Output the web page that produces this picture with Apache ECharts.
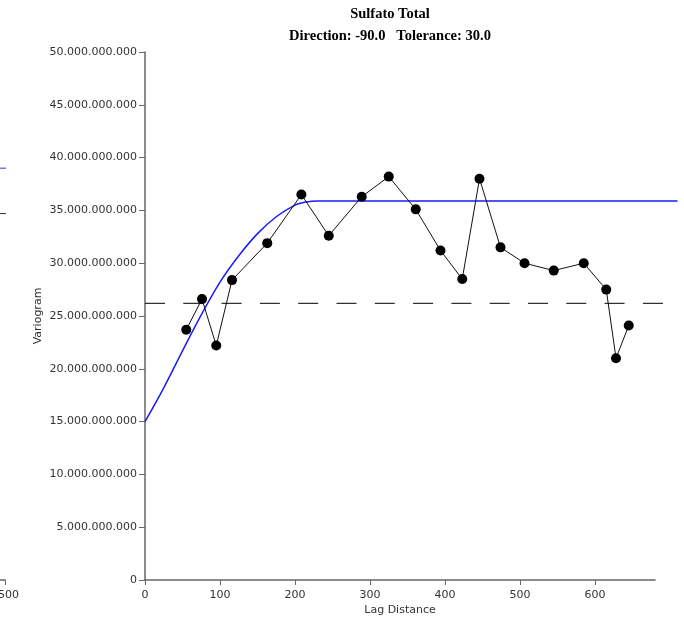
<!DOCTYPE html>
<html>
<head>
<meta charset="utf-8">
<script src="https://cdn.jsdelivr.net/npm/echarts@6/dist/echarts.min.js"></script>
<style>html,body{margin:0;padding:0;background:#fff;}#c{width:684px;height:628px;}</style>
</head>
<body>
<div id="c"></div>
<script>
// Experimental variogram points (lag distance, gamma in units of 1e9)
var lagX = [55, 76, 95, 116, 163, 208.5, 245, 289, 325, 361, 394, 423, 446, 474, 506, 545, 585, 615, 628, 645];
var gammaY = [23.7, 26.6, 22.2, 28.4, 31.9, 36.5, 32.6, 36.3, 38.2, 35.1, 31.2, 28.5, 38.0, 31.5, 30.0, 29.3, 30.0, 27.5, 21.0, 24.1];
// Model curve (units of 1e9)
var modelX = [0, 25, 50, 75, 100, 125, 150, 175, 200, 215, 230, 260, 710];
var modelY = [15.0, 18.2, 21.7, 25.1, 28.2, 30.7, 32.8, 34.4, 35.5, 35.8, 35.9, 35.9, 35.9];
// Sample variance (dashed)
var sillX = [0, 710];
var sillY = [26.2, 26.2];
// Tick values
var xTicks = [0, 100, 200, 300, 400, 500, 600];
// Fragment of neighbouring chart at left edge
var leftXTicks = [1500];
var leftBlueY = [39.0, 39.0];
var leftBlackY = [34.7, 34.7];
var leftLineX = [1400, 1505];

var E = 1e9;
function pairs(xs, ys) { return xs.map(function (x, i) { return [x, ys[i] * E]; }); }
function fmt(v) { return String(Math.round(v)).replace(/\B(?=(\d{3})+(?!\d))/g, '.'); }

var axisCol = '#666';
var labelCol = '#333';
var titleX = 390;
var chart = echarts.init(document.getElementById('c'), null, { renderer: 'canvas' });
chart.setOption({
  animation: false,
  backgroundColor: '#fff',
  graphic: [
    { type: 'text', x: titleX, y: 7, style: { text: 'Sulfato Total', fontFamily: 'Liberation Serif', fontWeight: 'bold', fontSize: 14.5, fill: '#000', textAlign: 'center' } },
    { type: 'text', x: titleX, y: 29, style: { text: 'Direction: -90.0   Tolerance: 30.0', fontFamily: 'Liberation Serif', fontWeight: 'bold', fontSize: 14.5, fill: '#000', textAlign: 'center' } }
  ],
  grid: [
    { left: 145, top: 52, right: 29, bottom: 48, outerBoundsMode: 'none' },
    { left: -400, top: 52, right: 679, bottom: 48, outerBoundsMode: 'none' },
    { left: 145, top: 52, right: 6.5, bottom: 48, outerBoundsMode: 'none' }
  ],
  xAxis: [
    {
      gridIndex: 0, type: 'value', min: 0, max: 680,
      name: 'Lag Distance', nameLocation: 'middle', nameGap: 25, nameMoveOverlap: false,
      nameTextStyle: { fontFamily: 'DejaVu Sans', fontSize: 11, color: labelCol },
      axisLine: { show: true, onZero: false, lineStyle: { color: axisCol, width: 1.5 } },
      axisTick: { show: true, length: 5, customValues: xTicks, lineStyle: { color: axisCol } },
      axisLabel: { customValues: xTicks, fontFamily: 'DejaVu Sans', fontSize: 11, color: labelCol, margin: 10 },
      splitLine: { show: false }
    },
    {
      gridIndex: 1, type: 'value', min: 0, max: 1500,
      axisLine: { show: true, onZero: false, lineStyle: { color: axisCol, width: 1.5 } },
      axisTick: { show: true, length: 5, customValues: leftXTicks, lineStyle: { color: axisCol } },
      axisLabel: { customValues: leftXTicks, formatter: function (v) { return String(v); }, fontFamily: 'DejaVu Sans', fontSize: 11, color: labelCol, margin: 10 },
      splitLine: { show: false }
    },
    {
      gridIndex: 2, type: 'value', min: 0, max: 710, show: false
    }
  ],
  yAxis: [
    {
      gridIndex: 0, type: 'value', min: 0, max: 50 * E, interval: 5 * E,
      name: 'Variogram', nameLocation: 'middle', nameGap: 101, nameRotate: 90, nameMoveOverlap: false,
      nameTextStyle: { fontFamily: 'DejaVu Sans', fontSize: 11, color: labelCol },
      axisLine: { show: true, lineStyle: { color: axisCol, width: 1.5 } },
      axisTick: { show: true, length: 6, lineStyle: { color: axisCol } },
      axisLabel: { formatter: fmt, fontFamily: 'DejaVu Sans', fontSize: 11, color: labelCol, margin: 8 },
      splitLine: { show: false }
    },
    { gridIndex: 1, type: 'value', min: 0, max: 50 * E, show: false },
    { gridIndex: 2, type: 'value', min: 0, max: 50 * E, show: false }
  ],
  series: [
    {
      type: 'line', xAxisIndex: 2, yAxisIndex: 2, data: pairs(sillX, sillY),
      symbol: 'none', lineStyle: { color: '#000', width: 1, type: [20, 18.3] }, silent: true, z: 1
    },
    {
      type: 'line', xAxisIndex: 2, yAxisIndex: 2, data: pairs(modelX, modelY),
      smooth: 0.35,
      symbol: 'none', lineStyle: { color: '#1a1aff', width: 1.5 }, silent: true, z: 2
    },
    {
      type: 'line', xAxisIndex: 0, yAxisIndex: 0, data: pairs(lagX, gammaY),
      symbol: 'circle', symbolSize: 10, itemStyle: { color: '#000' },
      lineStyle: { color: '#111', width: 1 }, silent: true, z: 3
    },
    {
      type: 'line', xAxisIndex: 1, yAxisIndex: 1, data: pairs(leftLineX, leftBlueY), clip: false,
      symbol: 'none', lineStyle: { color: '#3333ff', width: 1 }, silent: true
    },
    {
      type: 'line', xAxisIndex: 1, yAxisIndex: 1, data: pairs(leftLineX, leftBlackY), clip: false,
      symbol: 'none', lineStyle: { color: '#333', width: 1 }, silent: true
    }
  ]
});
</script>
</body>
</html>
